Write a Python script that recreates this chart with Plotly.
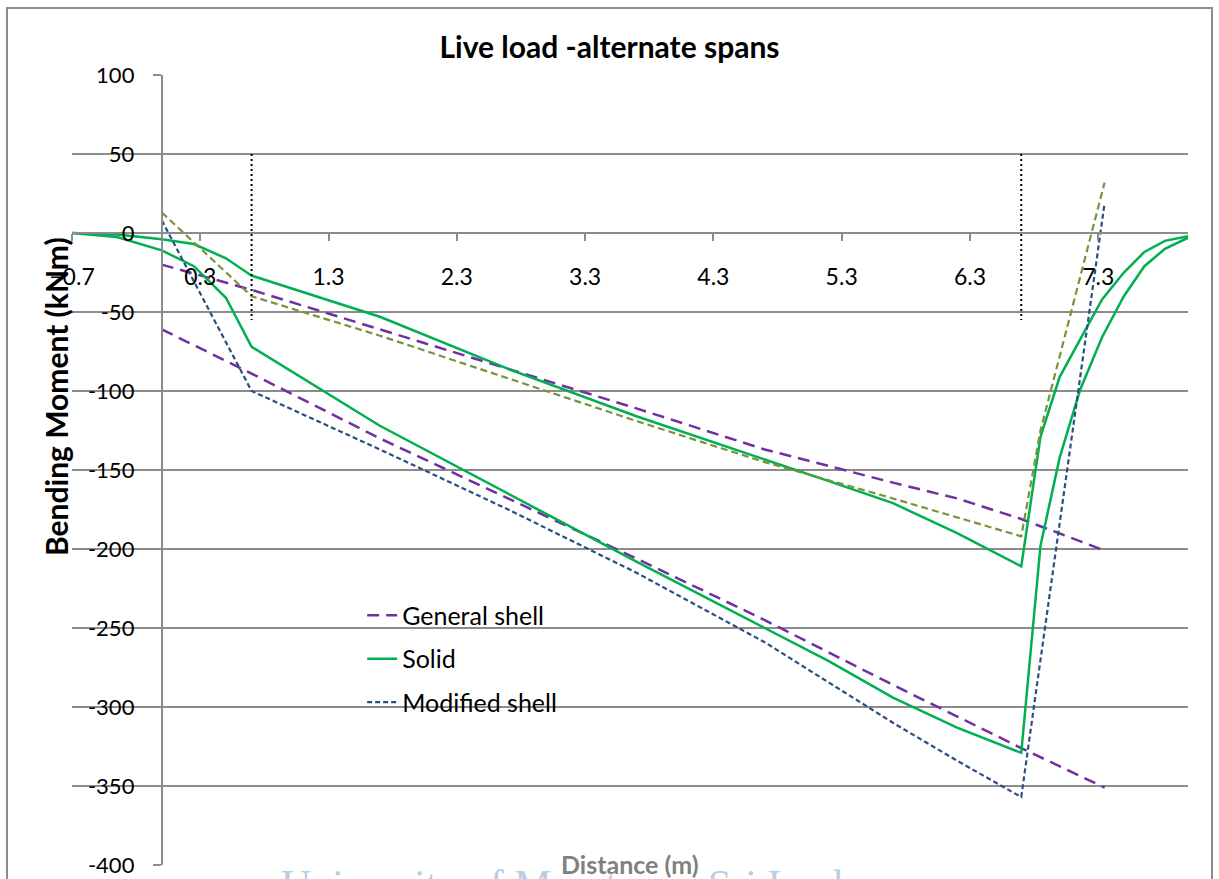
import plotly.graph_objects as go

# bending moment curves (x in m, moment in kNm)
solid_top_x = [-0.7, -0.35, 0.0, 0.25, 0.5, 0.7, 1.7, 2.7, 3.7, 4.7, 5.2, 5.7, 6.2, 6.7, 6.85, 7.0, 7.33, 7.5, 7.66, 7.82, 8.0]
solid_top_y = [0, -1, -4, -7, -16, -27, -53, -86, -116, -143, -157, -171, -190, -211, -129, -91, -42, -25, -12, -5, -2]

solid_bot_x = [-0.7, -0.35, 0.0, 0.25, 0.5, 0.7, 1.7, 2.7, 3.7, 4.7, 5.2, 5.7, 6.2, 6.7, 6.85, 7.0, 7.16, 7.33, 7.5, 7.66, 7.82, 8.0]
solid_bot_y = [0, -2.5, -11, -21, -41, -72, -122, -165, -208, -250, -271, -294, -313, -329, -198, -142, -99, -66, -40, -21, -10, -3]

gen_top_x = [0, 0.7, 1.7, 2.7, 3.7, 4.7, 5.7, 6.2, 6.7, 7.35]
gen_top_y = [-20, -36, -61, -86, -111, -137, -158, -168, -181, -201]

gen_bot_x = [0, 0.7, 1.7, 2.7, 3.7, 4.7, 5.7, 6.7, 7.35]
gen_bot_y = [-61, -89, -130, -168, -206, -245, -286, -326, -351]

mod_top_x = [0, 0.7, 1.7, 2.7, 3.7, 4.7, 5.7, 6.7, 6.85, 7.35]
mod_top_y = [13, -40, -65, -92, -119, -145, -168, -192, -125, 32]

mod_bot_x = [0, 0.7, 1.7, 2.7, 3.7, 4.7, 5.7, 6.2, 6.7, 7.35]
mod_bot_y = [8, -100, -137, -175, -215, -259, -310, -334, -357, 19]

# support faces (dotted markers)
support_x = [0.7, 6.7]
support_y = [50, -55]

y_ticks = [100, 50, 0, -50, -100, -150, -200, -250, -300, -350, -400]
y_tick_text = ["100", "50", "0", "-50", "-100", "-150", "-200", "-250", "-300", "-350", "-400"]

PURPLE = "#7030A0"
GREEN = "#00B050"
BLUE = "#2B4F7E"
OLIVE = "#77933C"
GRID = "#8C8C8C"
FONT = "Lato"

fig = go.Figure()

fig.add_trace(go.Scatter(x=gen_top_x, y=gen_top_y, mode="lines", name="General shell",
                         legendgroup="g", line=dict(color=PURPLE, width=2.5, dash="12px,7px")))
fig.add_trace(go.Scatter(x=gen_bot_x, y=gen_bot_y, mode="lines", name="General shell",
                         legendgroup="g", showlegend=False,
                         line=dict(color=PURPLE, width=2.5, dash="12px,7px")))
fig.add_trace(go.Scatter(x=solid_top_x, y=solid_top_y, mode="lines", name="Solid",
                         legendgroup="s", line=dict(color=GREEN, width=2.5)))
fig.add_trace(go.Scatter(x=solid_bot_x, y=solid_bot_y, mode="lines", name="Solid",
                         legendgroup="s", showlegend=False, line=dict(color=GREEN, width=2.5)))
fig.add_trace(go.Scatter(x=mod_top_x, y=mod_top_y, mode="lines", name="Modified shell",
                         legendgroup="m2", showlegend=False,
                         line=dict(color=OLIVE, width=2.2, dash="7px,4px")))
fig.add_trace(go.Scatter(x=mod_bot_x, y=mod_bot_y, mode="lines", name="Modified shell",
                         legendgroup="m", line=dict(color=BLUE, width=2.2, dash="5px,3px")))

for sx in support_x:
    fig.add_trace(go.Scatter(x=[sx, sx], y=support_y, mode="lines", showlegend=False,
                             line=dict(color="black", width=2, dash="2px,3px")))

fig.update_layout(
    width=1219,
    height=879,
    margin=dict(l=72, r=31, t=75, b=14),
    paper_bgcolor="white",
    plot_bgcolor="white",
    font=dict(family=FONT, size=22, color="black"),
    title=dict(text="<b>Live load -alternate spans</b>", x=0.5, xanchor="center",
               y=1 - 47 / 879, yanchor="middle", font=dict(size=30, family=FONT)),
    showlegend=True,
    legend=dict(x=0.26, y=0.345, xanchor="left", yanchor="top", bgcolor="rgba(0,0,0,0)",
                traceorder="grouped", tracegroupgap=8, font=dict(size=25, family=FONT)),
    xaxis=dict(
        range=[-0.7, 8.0],
        tick0=-0.7, dtick=1, tickformat=".1f",
        showgrid=False, zeroline=False,
        showline=True, linecolor=GRID, linewidth=2,
        ticks="outside", ticklen=7, tickwidth=2, tickcolor=GRID,
        anchor="free", position=0.8, automargin=False,
        ticklabelstandoff=16,
        tickfont=dict(size=23),
    ),
    yaxis=dict(
        range=[-400, 100],
        tickvals=y_ticks, ticktext=y_tick_text,
        showgrid=True, gridcolor=GRID, gridwidth=2, zeroline=False,
        showline=True, linecolor=GRID, linewidth=2,
        ticks="outside", ticklen=8, tickwidth=2, tickcolor=GRID,
        anchor="free", position=0.7 / 8.7, automargin=False,
        ticklabelstandoff=14,
        tickfont=dict(size=22),
    ),
)

# axis titles
fig.add_annotation(text="<b>Bending Moment (kNm)</b>", xref="paper", yref="paper",
                   x=(56 - 72) / 1116, y=(865 - 397) / 790, textangle=-90, showarrow=False,
                   xanchor="center", yanchor="middle", font=dict(size=30, family=FONT))
# faint watermark cut off at the bottom edge
fig.add_annotation(text="University of Moratuwa, Sri Lanka.", xref="paper", yref="paper",
                   x=(582 - 72) / 1116, y=0.006, showarrow=False,
                   xanchor="center", yanchor="top",
                   font=dict(size=42, family="Liberation Serif", color="#B7CDE6"))
fig.add_annotation(text="<b>Distance (m)</b>", xref="paper", yref="paper",
                   x=(630 - 72) / 1116, y=0.001, showarrow=False,
                   xanchor="center", yanchor="middle", font=dict(size=25, family=FONT, color="#808080"))

# chart area border
fig.add_shape(type="rect", xref="paper", yref="paper",
              x0=(7 - 72) / 1116, x1=(1212 - 72) / 1116, y0=-0.1, y1=(865 - 8) / 790,
              line=dict(color=GRID, width=2), layer="below")

# drop the default page margin so the chart sits at the window's corner
fig.write_html("out.html", config={"displayModeBar": False},
               post_script="document.body.style.margin='0px';")
